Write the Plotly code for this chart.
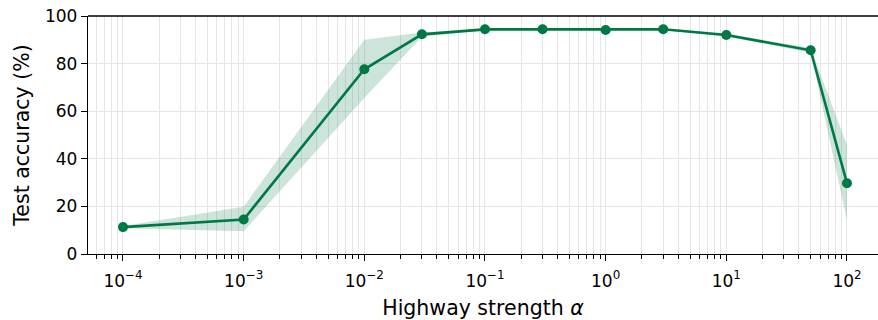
import plotly.graph_objects as go

alpha = [1e-4, 1e-3, 1e-2, 3e-2, 1e-1, 3e-1, 1, 3, 10, 50, 100]
acc_mean = [11.3, 14.5, 77.6, 92.3, 94.4, 94.4, 94.1, 94.4, 92.0, 85.6, 29.7]
acc_low = [10.8, 9.6, 65.5, 91.3, 94.0, 94.0, 93.7, 94.0, 91.4, 84.6, 14.3]
acc_high = [11.8, 19.9, 90.0, 93.1, 94.8, 94.8, 94.5, 94.8, 92.6, 86.6, 45.8]

major_ticks = [1e-4, 1e-3, 1e-2, 1e-1, 1, 10, 100]
major_labels = ["10<sup>−4</sup>", "10<sup>−3</sup>", "10<sup>−2</sup>", "10<sup>−1</sup>",
                "10<sup>0</sup>", "10<sup>1</sup>", "10<sup>2</sup>"]
minor_ticks = [m * d for d in [1e-5, 1e-4, 1e-3, 1e-2, 1e-1, 1, 10, 100] for m in range(2, 10)]
y_ticks = [0, 20, 40, 60, 80, 100]

green = "rgb(0,120,70)"
band = "rgba(0,120,70,0.2)"
font = "DejaVu Sans"

fig = go.Figure()
fig.add_trace(go.Scatter(x=alpha, y=acc_low, mode="lines", line=dict(width=0, color=band),
                         showlegend=False, hoverinfo="skip"))
fig.add_trace(go.Scatter(x=alpha, y=acc_high, mode="lines", line=dict(width=0, color=band),
                         fill="tonexty", fillcolor=band, showlegend=False, hoverinfo="skip"))
fig.add_trace(go.Scatter(x=alpha, y=acc_mean, mode="lines+markers",
                         line=dict(color=green, width=2.6),
                         marker=dict(color=green, size=10), showlegend=False))

fig.update_xaxes(type="log", range=[-4.29, 2.257],
                 tickvals=major_ticks, ticktext=major_labels,
                 ticks="outside", ticklen=6, tickwidth=1.4, tickcolor="black",
                 ticklabelstandoff=5,
                 showline=True, linecolor="black", linewidth=1.4,
                 showgrid=True, gridcolor="#e6e6e6", gridwidth=1,
                 minor=dict(tickvals=minor_ticks, ticks="outside", ticklen=3.5, tickwidth=1,
                            tickcolor="black", showgrid=True, gridcolor="#e6e6e6", gridwidth=1),
                 tickfont=dict(family=font, size=17, color="black"),
                 title=dict(text="Highway strength <i>α</i>", font=dict(family=font, size=20.5, color="black"),
                            standoff=11),
                 zeroline=False)
fig.update_yaxes(range=[0, 100], tickvals=y_ticks,
                 ticks="outside", ticklen=6, tickwidth=1.4, tickcolor="black",
                 showline=True, linecolor="black", linewidth=1.4,
                 showgrid=True, gridcolor="#e6e6e6", gridwidth=1,
                 tickfont=dict(family=font, size=17, color="black"),
                 title=dict(text="Test accuracy (%)", font=dict(family=font, size=20.5, color="black"),
                            standoff=9),
                 zeroline=False)
fig.add_shape(type="line", xref="paper", yref="paper", x0=0, x1=1, y0=1, y1=1,
              line=dict(color="black", width=1.4))
fig.update_layout(width=878, height=320, margin=dict(l=88, r=0, t=16, b=66),
                  plot_bgcolor="white", paper_bgcolor="white",
                  font=dict(family=font, color="black"))
fig.write_html("out.html")
